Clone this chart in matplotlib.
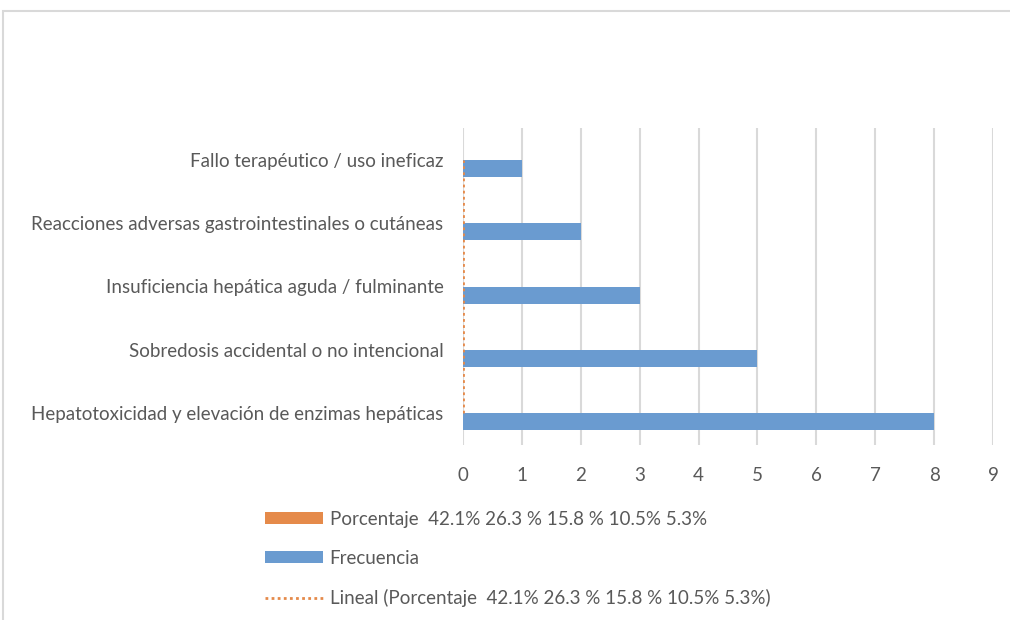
import matplotlib
matplotlib.use("Agg")
from matplotlib import pyplot as plt
from matplotlib.patches import Patch, Rectangle
from matplotlib.lines import Line2D
import numpy as np

# Data (bottom to top, as drawn)
categories = [
    "Hepatotoxicidad y elevación de enzimas hepáticas",
    "Sobredosis accidental o no intencional",
    "Insuficiencia hepática aguda / fulminante",
    "Reacciones adversas gastrointestinales o cutáneas",
    "Fallo terapéutico / uso ineficaz",
]
frecuencia = [8, 5, 3, 2, 1]
porcentaje = [0, 0, 0, 0, 0]  # stored as text in the source sheet, plotted as 0
xticks = list(range(0, 10))

pct_label = "Porcentaje  42.1% 26.3 % 15.8 % 10.5% 5.3%"
freq_label = "Frecuencia"
trend_label = "Lineal (Porcentaje  42.1% 26.3 % 15.8 % 10.5% 5.3%)"

blue = "#6A9BD0"
orange = "#E58A4A"
grid_c = "#D9D9D9"
text_c = "#595959"
fs = 13.5

plt.rcParams['font.family'] = ['Lato', 'DejaVu Sans']

fig = plt.figure(figsize=(10.1, 6.2), dpi=100)

# outer chart frame
fig.patches.append(Rectangle((3 / 1010, -0.05), 1.1, 1 - 11 / 620 + 0.05,
                             transform=fig.transFigure, fill=False,
                             edgecolor=grid_c, linewidth=1.5))

ax = fig.add_axes([463 / 1010, 1 - 445 / 620, (993 - 463) / 1010, (445 - 128) / 620])

y = np.arange(len(categories))
h = 0.27
ax.barh(y - h / 2, frecuencia, height=h, color=blue, zorder=3)
ax.barh(y + h / 2, porcentaje, height=h, color=orange, zorder=3)
ax.plot(porcentaje, y, color=orange, linestyle=(0, (1, 1.2)), linewidth=2, zorder=4)

ax.set_xlim(0, 9)
ax.set_ylim(-0.5, len(categories) - 0.5)
ax.set_xticks(xticks)
ax.set_yticks(y)
ax.set_yticklabels(categories)
ax.xaxis.grid(True, color=grid_c, linewidth=1.5, zorder=0)
ax.set_axisbelow(True)
for s in ax.spines.values():
    s.set_visible(False)
ax.tick_params(axis='x', length=0, pad=16, labelsize=fs, labelcolor=text_c)
ax.tick_params(axis='y', length=0, pad=14, labelsize=fs, labelcolor=text_c)

handles = [
    Patch(facecolor=orange, edgecolor='none'),
    Patch(facecolor=blue, edgecolor='none'),
    Line2D([0], [0], color=orange, linestyle=(0, (1, 1.2)), linewidth=2),
]
fig.legend(handles, [pct_label, freq_label, trend_label],
           loc='upper left', bbox_to_anchor=(265 / 1010, 1 - 511 / 620),
           frameon=False, fontsize=fs, labelcolor=text_c,
           handlelength=3.1, handleheight=0.6, handletextpad=0.35,
           labelspacing=1.17, borderaxespad=0, borderpad=0)

fig.savefig("out.png", dpi=100, facecolor='white')
